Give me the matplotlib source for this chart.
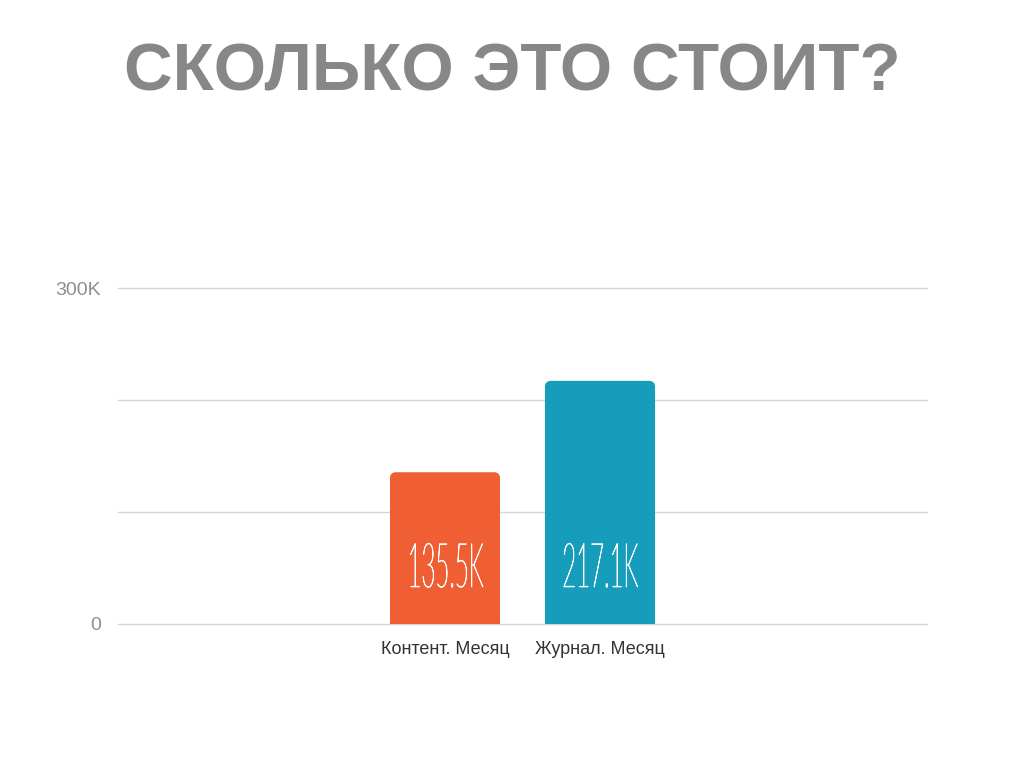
import matplotlib.pyplot as plt
import matplotlib.patheffects as pe
from matplotlib.patches import FancyBboxPatch
from matplotlib.transforms import Affine2D

categories = ["Контент. Месяц", "Журнал. Месяц"]
values = [135500, 217100]
value_labels = ["135.5K", "217.1K"]
yticks = [0, 100000, 200000, 300000]
ytick_labels = ["0", "", "", "300K"]

colors = ["#F05F34", "#169DBB"]
title_color = "#878787"


class Stretch(pe.AbstractPathEffect):
    # reshapes the glyphs around the middle of the string (tall, narrow digits)
    # and adds an even outline so strokes keep the same weight both ways
    def __init__(self, sx, sy, lw):
        super().__init__()
        self.sx = sx
        self.sy = sy
        self.lw = lw

    def draw_path(self, renderer, gc, tpath, affine, rgbFace=None):
        ext = tpath.get_extents()
        cx = (ext.x0 + ext.x1) / 2
        cy = (ext.y0 + ext.y1) / 2
        t = Affine2D().translate(-cx, -cy).scale(self.sx, self.sy).translate(cx, cy)
        gc0 = renderer.new_gc()
        gc0.copy_properties(gc)
        gc0.set_linewidth(self.lw)
        gc0.set_foreground(rgbFace)
        gc0.set_joinstyle("round")
        renderer.draw_path(gc0, tpath, t + affine, rgbFace)
        gc0.restore()


fig = plt.figure(figsize=(10.24, 7.68), dpi=100)
ax = fig.add_axes([0.1152, 0.1875, 0.7901, 0.4375])

x = list(range(len(categories)))
ax.set_xlim(-2.11, 3.11)
ax.set_ylim(0, 300000)

bars = ax.bar(x, values, width=0.71, color=colors, zorder=3)

# rounded top corners: swap each bar for a rounded box whose bottom is hidden below the axis
px_x = (ax.transData.transform((1, 0))[0] - ax.transData.transform((0, 0))[0])
px_y = (ax.transData.transform((0, 1))[1] - ax.transData.transform((0, 0))[1])
aspect = px_x / px_y
r = 6 / px_x
for b, c in zip(bars, colors):
    b.set_visible(False)
    bx, bw, bh = b.get_x(), b.get_width(), b.get_height()
    below = 20 / px_y
    patch = FancyBboxPatch((bx + r, -below + r * aspect), bw - 2 * r, bh + below - 2 * r * aspect,
                           boxstyle=f"round,pad={r},rounding_size={r}",
                           mutation_aspect=aspect, facecolor=c, edgecolor="none",
                           zorder=3, clip_on=True)
    ax.add_patch(patch)

for xi, lab in zip(x, value_labels):
    ax.text(xi, 50000, lab, ha="center", va="center", color="white",
            fontsize=24, family=["Lato", "DejaVu Sans"], fontweight="light",
            zorder=4, path_effects=[Stretch(0.72, 1.85, 0.6)])

ax.set_yticks(yticks)
ax.set_yticklabels(ytick_labels, color="#8e8e8e", fontsize=14, family="Liberation Sans")
ax.set_xticks(x)
ax.set_xticklabels(categories, color="#333333", fontsize=13, family="Liberation Sans")
ax.tick_params(axis="y", length=0, pad=12)
ax.tick_params(axis="x", length=0, pad=12)
ax.grid(axis="y", color="#d6d6d6", linewidth=1.0, zorder=0)
ax.set_axisbelow(True)
for gl in ax.get_ygridlines():
    gl.set_clip_on(False)
for s in ax.spines.values():
    s.set_visible(False)

fig.text(0.5, 0.8828, "СКОЛЬКО ЭТО СТОИТ?", ha="center", va="baseline",
         fontsize=48.5, fontweight="bold", color=title_color, family="Liberation Sans")

fig.savefig("out.png", dpi=100)
